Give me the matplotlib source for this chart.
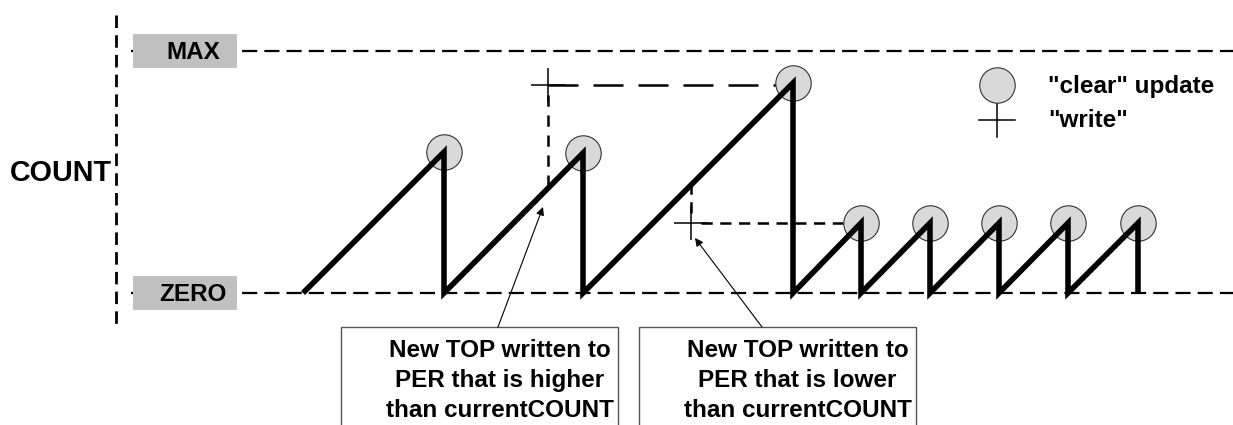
import matplotlib.pyplot as plt
from matplotlib.patches import Rectangle

plt.rcParams['font.family'] = ['Liberation Sans', 'DejaVu Sans']

# counter levels (count units)
ZERO = 0
MAX = 242

# sawtooth of the counter: time vs count
t_wave = [303, 444, 444, 583, 583, 793, 793, 861, 861, 930, 930, 999, 999, 1068, 1068, 1138, 1138]
count_wave = [0, 141, 0, 140, 0, 210, 0, 70, 0, 70, 0, 70, 0, 70, 0, 70, 0]

# "clear" update events (circles)
t_clear = [444, 583, 793, 861, 930, 999, 1068, 1138]
count_clear = [141, 140, 210, 70, 70, 70, 70, 70]

# "write" events (crosses) and the counter value the written TOP hits
t_write = [548, 691]
count_write = [208, 70]
count_hit = [104, 108]
t_write_end = [777, 843]

box_lines = [
    ["New TOP written to", "PER that is higher", "than currentCOUNT"],
    ["New TOP written to", "PER that is lower", "than currentCOUNT"],
]

fig = plt.figure(figsize=(12.33, 4.25), dpi=100)
ax = fig.add_axes([0, 0, 1, 1])
ax.set_xlim(0, 1233)
ax.set_ylim(-132, 293)
ax.axis("off")

# vertical axis
ax.plot([115.5, 115.5], [278, -32], color="black", lw=2.0, dashes=(4.5, 2.6), zorder=1)

# ZERO / MAX levels
for lev, name in [(ZERO, "ZERO"), (MAX, "MAX")]:
    ax.plot([131, 1233], [lev, lev], color="black", lw=1.6, dashes=(6.8, 3.2), zorder=1)
    ax.add_patch(Rectangle((133, lev - 17), 104, 34, facecolor="#c0c0c0", edgecolor="none", zorder=2))
    ax.text(193, lev - 8, name, ha="center", va="baseline", fontsize=17.5, fontweight="bold", zorder=3)

ax.text(112, 112, "COUNT", ha="right", va="baseline", fontsize=20.7, fontweight="bold")

# write guides
ax.plot([t_write[0], t_write_end[0]], [count_write[0], count_write[0]], color="black", lw=1.8, dashes=(12, 6), zorder=2)
ax.plot([t_write[0], t_write[0]], [count_write[0] - 10, count_hit[0]], color="black", lw=1.8, dashes=(4.5, 3.5), zorder=2)
ax.plot([t_write[1] + 10, t_write_end[1]], [count_write[1], count_write[1]], color="black", lw=1.8, dashes=(4.5, 3), zorder=2)
ax.plot([t_write[1], t_write[1]], [count_write[1] + 10, count_hit[1]], color="black", lw=1.8, dashes=(4.5, 3), zorder=2)
ax.plot(t_write, count_write, linestyle="none", marker="+", markersize=24, mew=1.1, color="black", zorder=3)

# clear circles behind the sawtooth
ax.plot(t_clear, count_clear, linestyle="none", marker="o", markersize=25.5,
        mfc="#d9d9d9", mec="#333333", mew=0.8, zorder=3)
ax.plot(t_wave, count_wave, color="black", lw=4.0, solid_joinstyle="miter", solid_capstyle="butt", zorder=4)

# legend
ax.plot([997, 997], [191, 156], color="black", lw=1.1, zorder=3)
ax.plot([979, 1015], [173, 173], color="black", lw=1.1, zorder=3)
ax.plot([997], [208], marker="o", markersize=25.5, mfc="#d9d9d9", mec="#333333", mew=0.8, zorder=4)
ax.text(1048, 200, "\"clear\" update", ha="left", va="baseline", fontsize=17.5, fontweight="bold")
ax.text(1048, 166, "\"write\"", ha="left", va="baseline", fontsize=17.5, fontweight="bold")

# note boxes with arrows
box_left = [341, 639]
arrow_tail = [(498, -34), (762, -34)]
arrow_head = [(543, 86), (695, 55)]
for i in range(2):
    ax.add_patch(Rectangle((box_left[i], -160), 277, 126, facecolor="white", edgecolor="#555555", lw=1, zorder=2))
    cx = box_left[i] + 138.5 + 20
    for j, line in enumerate(box_lines[i]):
        ax.text(cx, -64 - 30 * j, line, ha="center", va="baseline", fontsize=17.5, fontweight="bold", zorder=3)
    ax.annotate("", xy=arrow_head[i], xytext=arrow_tail[i],
                arrowprops=dict(arrowstyle="-|>", color="black", lw=0.8, mutation_scale=12, shrinkA=0, shrinkB=0),
                zorder=3)

fig.savefig("out.png", dpi=100)
